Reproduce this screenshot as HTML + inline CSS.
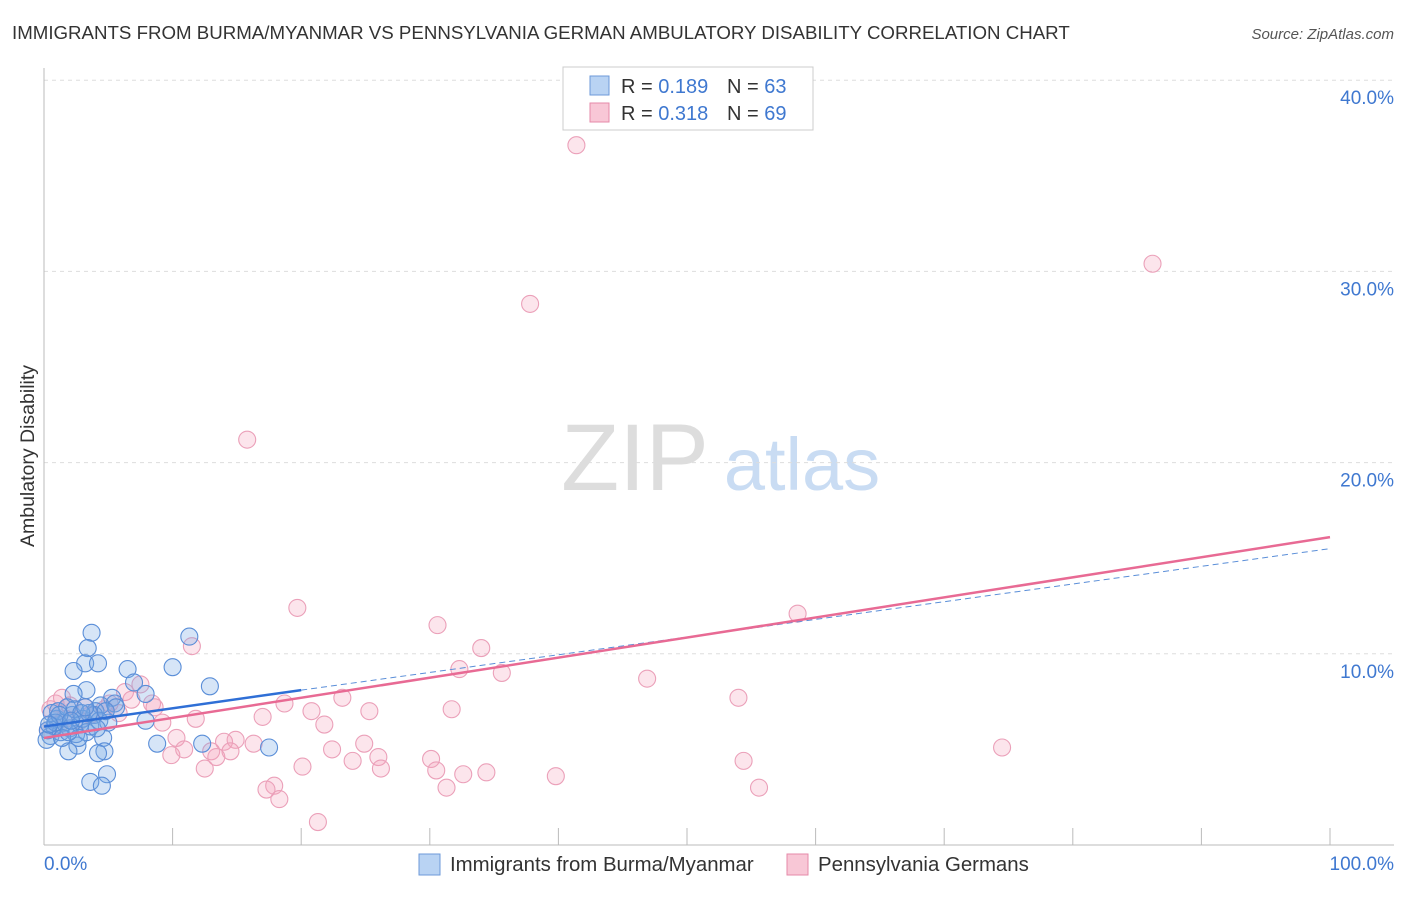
<!DOCTYPE html>
<html><head><meta charset="utf-8"><style>
body{margin:0;background:#fff;font-family:"Liberation Sans",sans-serif;}
svg text{font-family:"Liberation Sans",sans-serif;}
</style></head><body>
<svg width="1406" height="892" xmlns="http://www.w3.org/2000/svg">
<text x="12" y="39" font-size="18.7" fill="#333">IMMIGRANTS FROM BURMA/MYANMAR VS PENNSYLVANIA GERMAN AMBULATORY DISABILITY CORRELATION CHART</text>
<text x="1394" y="39" font-size="15" fill="#555" font-style="italic" text-anchor="end">Source: ZipAtlas.com</text>
<text x="34" y="456" font-size="19.5" fill="#333" text-anchor="middle" transform="rotate(-90 34 456)">Ambulatory Disability</text>
<g><text x="635" y="490" font-size="95" fill="#ddd" font-family="Liberation Serif" text-anchor="middle">ZIP</text><text x="802" y="490" font-size="74" fill="#c9dcf3" text-anchor="middle">atlas</text></g>
<g id="grid"></g><g id="axes"></g><g id="pts"></g><g id="lines"></g>
<g>
<rect x="563" y="67" width="250" height="63" fill="#fff" stroke="#ccc"/>
<rect x="590" y="76" width="19" height="19" fill="#b9d3f3" stroke="#6d9ad8"/>
<rect x="590" y="103" width="19" height="19" fill="#f8c7d6" stroke="#e68aa8"/>
<text x="621" y="93" font-size="20" fill="#333">R = <tspan fill="#3f78d0">0.189</tspan></text>
<text x="727" y="93" font-size="20" fill="#333">N = <tspan fill="#3f78d0">63</tspan></text>
<text x="621" y="120" font-size="20" fill="#333">R = <tspan fill="#3f78d0">0.318</tspan></text>
<text x="727" y="120" font-size="20" fill="#333">N = <tspan fill="#3f78d0">69</tspan></text>
</g>
<g>
<rect x="419" y="854" width="21" height="21" fill="#b9d3f3" stroke="#6d9ad8"/>
<text x="450" y="871" font-size="20.4" fill="#333">Immigrants from Burma/Myanmar</text>
<rect x="787" y="854" width="21" height="21" fill="#f8c7d6" stroke="#e68aa8"/>
<text x="818" y="871" font-size="20.4" fill="#333">Pennsylvania Germans</text>
</g>
<text x="44" y="870" font-size="19" fill="#3f78d0">0.0%</text>
<text x="1394" y="870" font-size="19" fill="#3f78d0" text-anchor="end">100.0%</text>
</svg>
<script>
const yTicks=[10,20,30,40];
const blueX=[3.7,3.4,3.2,4.2,2.3,6.5,10.0,11.3,12.9,3.3,2.3,5.3,7.0,7.9,5.5,4.4,4.0,7.9,8.8,12.3,17.5,4.6,2.6,1.9,4.7,4.2,3.6,4.9,4.5,0.5,0.8,1.0,1.3,0.3,1.6,2.0,2.2,2.5,2.8,3.0,3.3,3.6,0.6,1.1,1.8,2.4,3.9,4.3,0.2,1.4,2.7,3.5,5.0,0.9,1.9,2.9,4.1,1.2,0.4,3.2,5.6,4.8,2.1];
const blueY=[11.1,10.3,9.5,9.5,9.1,9.2,9.3,10.9,8.3,8.1,7.9,7.7,8.5,7.9,7.4,7.3,7.0,6.5,5.3,5.3,5.1,5.6,5.2,4.9,4.9,4.8,3.3,3.7,3.1,5.7,6.2,6.6,5.9,6.0,6.4,6.1,6.8,5.8,6.3,6.6,5.9,6.2,6.9,7.0,7.2,7.1,6.8,6.5,5.5,5.6,5.6,6.9,6.4,6.4,5.9,6.9,6.1,6.8,6.3,7.2,7.2,7.0,6.5];
const pinkX=[41.4,86.2,37.8,15.8,19.7,58.6,30.6,34.0,11.5,32.3,35.6,46.9,54.0,7.5,6.3,23.2,18.7,20.8,25.3,31.7,17.0,21.8,11.8,9.2,10.3,14.9,14.0,16.3,24.9,22.4,10.9,13.0,14.5,9.9,13.4,24.0,26.0,30.1,54.4,74.5,20.1,12.5,26.2,30.5,32.6,34.4,39.8,31.3,55.6,17.9,17.3,18.3,21.3,0.9,1.4,0.5,2.0,3.2,5.8,6.8,8.4,8.6,4.7,2.8,1.2,0.3,3.6,5.1,1.7];
const pinkY=[36.6,30.4,28.3,21.2,12.4,12.1,11.5,10.3,10.4,9.2,9.0,8.7,7.7,8.4,8.0,7.7,7.4,7.0,7.0,7.1,6.7,6.3,6.6,6.4,5.6,5.5,5.4,5.3,5.3,5.0,5.0,4.9,4.9,4.7,4.6,4.4,4.6,4.5,4.4,5.1,4.1,4.0,4.0,3.9,3.7,3.8,3.6,3.0,3.0,3.1,2.9,2.4,1.2,7.4,7.7,7.1,7.3,7.2,6.9,7.6,7.4,7.2,7.1,6.5,6.3,6.0,6.8,7.4,6.6];
const blueFit=[6.2,8.1];const blueFitEnd=[20,100];const blueDashEnd=15.5;
const pinkFit=[5.6,16.1];
const NS="http://www.w3.org/2000/svg";
const sx=v=>44+v*12.86, sy=v=>845-v*19.12;
function mk(t,a,p){const e=document.createElementNS(NS,t);for(const k in a)e.setAttribute(k,a[k]);p.appendChild(e);return e;}
const grid=document.getElementById('grid'),axes=document.getElementById('axes'),pts=document.getElementById('pts'),lines=document.getElementById('lines');
yTicks.forEach(t=>{
 const g=mk('line',{x1:44,x2:1394,y1:sy(t),y2:sy(t),stroke:'#ddd','stroke-dasharray':'4,4'},grid);
 
 
 const l=mk('text',{x:1394,y:sy(t)+24,'font-size':19,fill:'#3f78d0','text-anchor':'end'},grid);l.textContent=t.toFixed(1)+'%';
 
 
});
const ya=mk('line',{x1:44,x2:44,y1:68,y2:845,stroke:'#bbb'},axes);


const xa=mk('line',{x1:44,x2:1394,y1:845,y2:845,stroke:'#bbb'},axes);


for(let i=0;i<=10;i++){const t=mk('line',{x1:sx(i*10),x2:sx(i*10),y1:828,y2:845,stroke:'#bbb'},axes);
 
 }
function dots(X,Y,fill,stroke,name){X.forEach((x,i)=>{const c=mk('circle',{cx:sx(x),cy:sy(Y[i]),r:8.5,fill:fill,stroke:stroke,'stroke-width':1.1},pts);
 
 });}
dots(pinkX,pinkY,'rgba(244,160,188,0.28)','#eba0b9','pink-point');
dots(blueX,blueY,'rgba(120,170,230,0.3)','#5a8ed8','blue-point');
const bd=mk('line',{x1:sx(blueFitEnd[0]),y1:sy(blueFit[1]),x2:sx(100),y2:sy(blueDashEnd),stroke:'#5a8ed8','stroke-width':1,'stroke-dasharray':'6,4'},lines);


const pl=mk('line',{x1:sx(0),y1:sy(pinkFit[0]),x2:sx(100),y2:sy(pinkFit[1]),stroke:'#e86a94','stroke-width':2.5},lines);


const bl=mk('line',{x1:sx(0),y1:sy(blueFit[0]),x2:sx(blueFitEnd[0]),y2:sy(blueFit[1]),stroke:'#2f6fd6','stroke-width':2.5},lines);


</script>
</body></html>
